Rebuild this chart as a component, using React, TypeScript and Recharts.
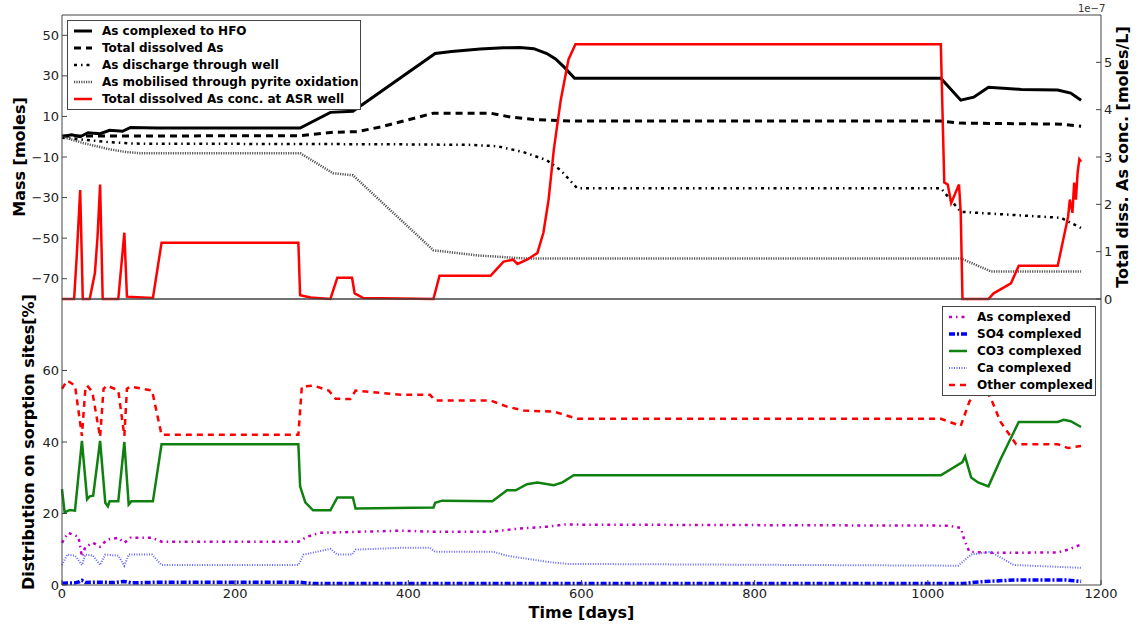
import { LineChart, Line, XAxis, YAxis } from 'recharts'

const FONT = '"DejaVu Sans", Verdana, sans-serif'
const AXIS = '#444'
const TICK = { fill: '#222', fontSize: 13, fontFamily: FONT }

const dayTicks = [0, 200, 400, 600, 800, 1000, 1200]
const massTicks = [50, 30, 10, -10, -30, -50, -70]
const concTicks = [0, 1, 2, 3, 4, 5]
const pctTicks = [0, 20, 40, 60]
const pctRightTicks = [20, 40, 60]

// top panel, mass [moles]
const hfoDays = [0, 11, 21, 30, 44, 55, 70, 79, 110, 275, 310, 336, 431, 450, 483, 510, 529, 545, 560, 570, 580, 592, 1015, 1038, 1053, 1070, 1108, 1150, 1165, 1177]
const hfoMass = [0, 1, 0, 2, 1.5, 3.2, 2.7, 4.6, 4.3, 4.3, 12, 12.6, 41, 42, 43.2, 43.8, 44, 43.4, 41, 38.3, 34.3, 28.8, 28.8, 18, 19.5, 24.4, 23.3, 23, 21.5, 18]

const dissDays = [0, 275, 313, 341, 368, 429, 495, 518, 545, 591, 1015, 1038, 1154, 1177]
const dissMass = [0.3, 0.5, 2.2, 2.5, 4.8, 11.6, 11.6, 9.7, 8.5, 7.7, 7.7, 6.7, 6.2, 5.2]

const wellDays = [0, 25, 55, 82, 368, 470, 503, 533, 560, 576, 595, 1015, 1038, 1154, 1177]
const wellMass = [-0.5, -1.5, -2.7, -3.4, -3.7, -4, -4.7, -7.6, -11.6, -16.5, -25.4, -25.4, -37, -40, -45]

const pyriteDays = [0, 25, 55, 75, 90, 275, 313, 336, 429, 480, 533, 1038, 1073, 1177]
const pyriteMass = [0, -3.2, -6.2, -7.6, -8.1, -8.1, -18, -19, -56, -58.5, -60, -60, -66.4, -66.4]

// top panel, conc. at ASR well [1e-7 moles/L]
const asrDays = [0, 14, 17, 21, 24, 32, 38, 41, 44, 47, 65, 72, 75, 105, 115, 273, 275, 287, 310, 318, 335, 338, 348, 429, 436, 495, 498, 510, 521, 526, 537, 549, 556, 562, 568, 576, 585, 593, 1015, 1019, 1023, 1027, 1036, 1038, 1040, 1070, 1076, 1096, 1105, 1150, 1162, 1164, 1167, 1169, 1171, 1173, 1175, 1177]
const asrConc = [0, 0, 0.9, 2.3, 0, 0, 0.55, 1.3, 2.42, 0, 0, 1.4, 0.05, 0.02, 1.19, 1.19, 0.08, 0.03, 0, 0.45, 0.45, 0.12, 0.02, 0, 0.49, 0.49, 0.55, 0.79, 0.83, 0.74, 0.83, 0.97, 1.4, 2.1, 3.15, 4.2, 5.06, 5.38, 5.38, 2.46, 2.42, 2.03, 2.42, 1.82, 0, 0, 0.12, 0.33, 0.7, 0.7, 1.74, 2.1, 1.82, 2.46, 2.1, 2.67, 2.95, 2.9]

// bottom panel, distribution on sorption sites [%]
const asCxDays = [0, 7, 19, 23, 27, 36, 44, 52, 65, 72, 79, 104, 115, 273, 283, 298, 391, 429, 495, 529, 560, 580, 1023, 1038, 1042, 1048, 1073, 1150, 1162, 1177]
const asCxPct = [11.8, 14.6, 13.5, 7.9, 10.7, 11.8, 10.7, 12.7, 13.2, 11.8, 13.2, 13.2, 12.1, 12.1, 13.5, 14.6, 15.2, 14.9, 14.9, 15.8, 16.3, 16.9, 16.6, 16, 12.7, 9.3, 9, 9.1, 9.9, 11.3]

const so4Days = [0, 15, 20, 23, 27, 40, 60, 72, 80, 115, 273, 290, 1040, 1060, 1100, 1160, 1177]
const so4Pct = [0.5, 0.6, 0.9, 1.3, 0.7, 0.8, 0.7, 1, 0.6, 0.8, 0.8, 0.4, 0.4, 0.9, 1.4, 1.4, 1]

const co3Days = [0, 3, 9, 15, 23, 29, 32, 36, 44, 50, 53, 55, 65, 72, 77, 80, 105, 115, 273, 275, 281, 290, 310, 318, 336, 339, 429, 431, 439, 497, 514, 524, 537, 549, 568, 578, 591, 1015, 1040, 1043, 1050, 1058, 1070, 1084, 1105, 1150, 1157, 1165, 1177]
const co3Pct = [26.8, 20.3, 21, 20.8, 40.3, 24, 24.8, 25, 40.3, 23, 22, 23.4, 23.4, 40, 22.5, 23.4, 23.4, 39.4, 39.4, 27.6, 23.1, 20.9, 20.9, 24.5, 24.5, 21.4, 21.7, 23, 23.6, 23.4, 26.5, 26.5, 28.2, 28.7, 27.9, 28.7, 30.7, 30.7, 34.4, 36, 30.1, 28.7, 27.6, 35.2, 45.6, 45.6, 46.2, 45.8, 44.2]

const caDays = [0, 6, 15, 23, 27, 36, 44, 50, 65, 72, 77, 104, 115, 273, 279, 310, 318, 335, 339, 391, 425, 431, 498, 514, 560, 584, 1035, 1050, 1073, 1099, 1177]
const caPct = [5.6, 8.5, 8.2, 5.6, 8.5, 8.2, 5.6, 8.5, 8.2, 5.4, 8.5, 8.5, 5.6, 5.6, 8.5, 10.1, 8.5, 8.5, 9.9, 10.4, 10.4, 9.3, 9.3, 8.2, 6.5, 5.9, 5.4, 8.5, 9.3, 5.6, 4.8]

const otherDays = [0, 6, 15, 23, 27, 29, 35, 44, 48, 52, 65, 72, 75, 79, 104, 115, 273, 277, 290, 308, 316, 333, 339, 391, 425, 431, 495, 514, 533, 568, 595, 1015, 1038, 1048, 1058, 1063, 1073, 1084, 1102, 1150, 1162, 1177]
const otherPct = [54.9, 57.2, 55.8, 41.7, 54.9, 55.8, 54, 41.4, 54.9, 55.8, 54.4, 41.7, 54.9, 55.5, 54.4, 42, 42, 55.5, 55.8, 54.4, 52.1, 52, 54.4, 53.2, 53.2, 51.6, 51.6, 49.9, 48.8, 48.5, 46.5, 46.5, 44.5, 51.3, 55, 56, 52.1, 45.6, 39.4, 39.4, 38.3, 38.9]

const pts = (days: number[], vals: number[]) => days.map((day, i) => ({ day, v: vals[i] }))
const fmt = (v: number) => (v < 0 ? `\u2212${Math.abs(v)}` : `${v}`)

type Series = { name: string; data: { day: number; v: number }[]; color: string; width: number; dash?: string; axis?: string }

const topSeries: Series[] = [
  { name: 'As complexed to HFO', data: pts(hfoDays, hfoMass), color: '#000', width: 3 },
  { name: 'Total dissolved As', data: pts(dissDays, dissMass), color: '#000', width: 3, dash: '7 5' },
  { name: 'As discharge through well', data: pts(wellDays, wellMass), color: '#000', width: 2.5, dash: '3 4 1.5 4' },
  { name: 'As mobilised through pyrite oxidation', data: pts(pyriteDays, pyriteMass), color: '#555', width: 2.5, dash: '1.2 1.2' },
  { name: 'Total dissolved As conc. at ASR well', data: pts(asrDays, asrConc), color: '#ff0000', width: 2.5, axis: 'conc' },
]

const bottomSeries: Series[] = [
  { name: 'As complexed', data: pts(asCxDays, asCxPct), color: '#c000c0', width: 2.5, dash: '3 4 1.5 4' },
  { name: 'SO4 complexed', data: pts(so4Days, so4Pct), color: '#0000ff', width: 3.5, dash: '6 2 2 2' },
  { name: 'CO3 complexed', data: pts(co3Days, co3Pct), color: '#108010', width: 2.5 },
  { name: 'Ca complexed', data: pts(caDays, caPct), color: '#6666ff', width: 2, dash: '1 1.5' },
  { name: 'Other complexed', data: pts(otherDays, otherPct), color: '#ff0000', width: 2.5, dash: '6 5' },
]

function LegendBox({ items, left, top, width }: { items: Series[]; left: number; top: number; width: number }) {
  return (
    <div
      style={{
        position: 'absolute', left, top, width, boxSizing: 'border-box',
        border: '1px solid #444', background: '#fff', padding: '1px 0 2px 6px',
        fontFamily: FONT, fontSize: 12, fontWeight: 'bold', color: '#000',
      }}
    >
      {items.map((s) => (
        <div key={s.name} style={{ display: 'flex', alignItems: 'center', height: 17, whiteSpace: 'nowrap' }}>
          <svg width={28} height={10} style={{ flex: 'none' }}>
            <line x1={0} x2={18} y1={5} y2={5} stroke={s.color} strokeWidth={s.width} strokeDasharray={s.dash} />
          </svg>
          <span>{s.name}</span>
        </div>
      ))}
    </div>
  )
}

const titleStyle = { textAnchor: 'middle' as const, fontFamily: FONT, fontSize: 16, fontWeight: 'bold', fill: '#000' }

export default function App() {
  return (
    <div style={{ position: 'absolute', left: 0, top: 0, width: 1142, height: 626, background: '#fff', fontFamily: FONT }}>
      <div style={{ position: 'absolute', left: 0, top: 0 }}>
        <LineChart width={1142} height={310} margin={{ top: 14, right: 0, bottom: 10, left: 0 }}>
          <XAxis xAxisId="b" type="number" dataKey="day" domain={[0, 1200]} ticks={dayTicks} height={1}
            tick={false} tickSize={-5} stroke={AXIS} />
          <XAxis xAxisId="t" orientation="top" type="number" dataKey="day" domain={[0, 1200]} ticks={dayTicks} height={1}
            tick={false} tickSize={-5} stroke={AXIS} />
          <YAxis yAxisId="mass" type="number" domain={[-80, 60]} ticks={massTicks} width={62} interval={0}
            tickFormatter={fmt} tick={TICK} tickSize={-5} tickMargin={8} stroke={AXIS}
            label={{ value: 'Mass [moles]', angle: -90, position: 'insideLeft', offset: 19, style: titleStyle }} />
          <YAxis yAxisId="conc" orientation="right" type="number" domain={[0, 6]} ticks={concTicks} width={41} interval={0}
            tick={TICK} tickSize={-5} tickMargin={8} stroke={AXIS}
            label={{ value: 'Total diss. As conc. [moles/L]', angle: -90, position: 'insideRight', offset: 20, style: titleStyle }} />
          {topSeries.map((s) => (
            <Line key={s.name} xAxisId="b" yAxisId={s.axis ?? 'mass'} data={s.data} dataKey="v" type="linear"
              stroke={s.color} strokeWidth={s.width} strokeDasharray={s.dash} dot={false}
              isAnimationActive={false} />
          ))}
        </LineChart>
      </div>
      <div style={{ position: 'absolute', left: 0, top: 290 }}>
        <LineChart width={1142} height={336} margin={{ top: 8, right: 0, bottom: 0, left: 0 }}>
          <XAxis xAxisId="b" type="number" dataKey="day" domain={[0, 1200]} ticks={dayTicks} height={41} interval={0}
            tick={TICK} tickSize={-5} tickMargin={9} stroke={AXIS}
            label={{ value: 'Time [days]', position: 'insideBottom', offset: 8, style: titleStyle }} />
          <XAxis xAxisId="t" orientation="top" type="number" dataKey="day" domain={[0, 1200]} ticks={dayTicks} height={1}
            tick={false} tickSize={-5} stroke={AXIS} />
          <YAxis yAxisId="pct" type="number" domain={[0, 80]} ticks={pctTicks} width={62} interval={0}
            tick={TICK} tickSize={-5} tickMargin={8} stroke={AXIS}
            label={{ value: 'Distribution on sorption sites[%]', angle: -90, position: 'insideLeft', offset: 28, style: titleStyle }} />
          <YAxis yAxisId="r" orientation="right" type="number" domain={[0, 80]} ticks={pctRightTicks} width={41}
            tick={false} tickSize={-5} stroke={AXIS} />
          {bottomSeries.map((s) => (
            <Line key={s.name} xAxisId="b" yAxisId="pct" data={s.data} dataKey="v" type="linear"
              stroke={s.color} strokeWidth={s.width} strokeDasharray={s.dash} dot={false}
              isAnimationActive={false} />
          ))}
        </LineChart>
      </div>
      <div style={{ position: 'absolute', left: 1078, top: 3, fontSize: 10, color: '#333' }}>1e{'\u2212'}7</div>
      <LegendBox items={topSeries} left={67} top={20} width={294} />
      <LegendBox items={bottomSeries} left={942} top={306} width={154} />
    </div>
  )
}
